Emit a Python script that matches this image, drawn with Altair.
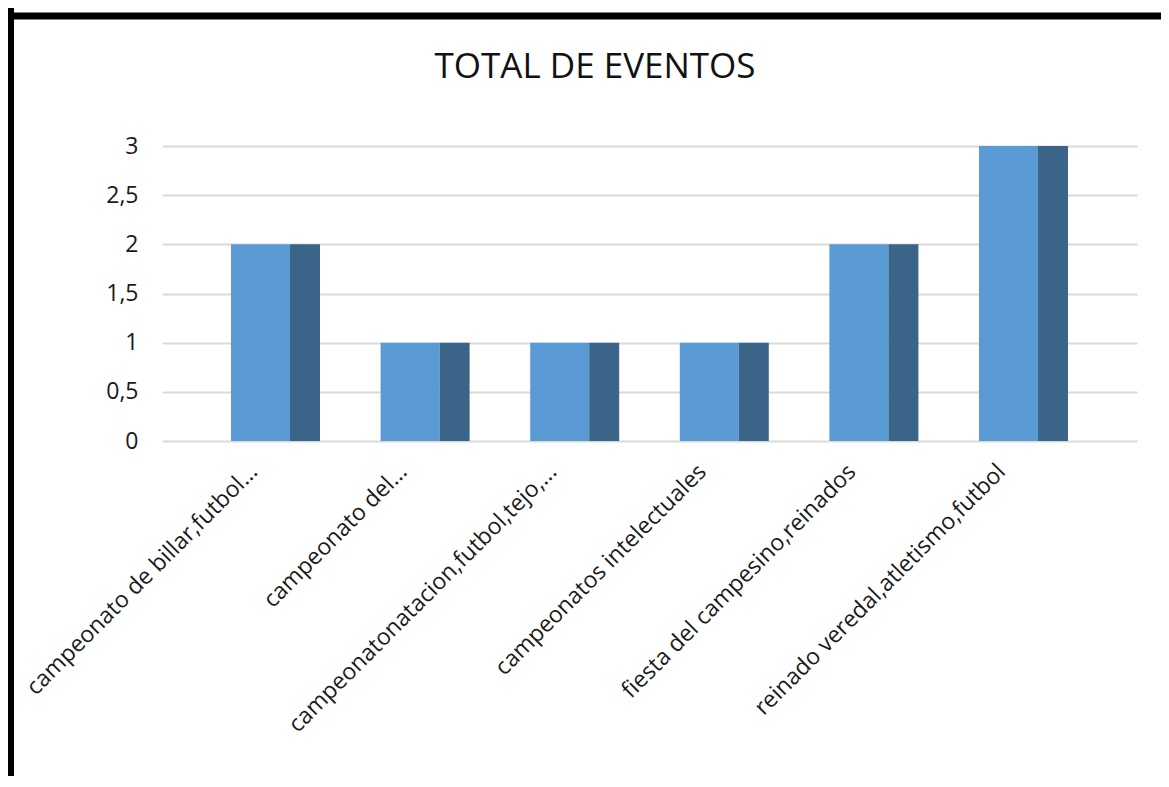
import json
import altair as alt
import pandas as pd

title_text = "TOTAL DE EVENTOS"
categories = [
    "campeonato de billar,futbol...",
    "campeonato del...",
    "campeonatonatacion,futbol,tejo,...",
    "campeonatos intelectuales",
    "fiesta del campesino,reinados",
    "reinado veredal,atletismo,futbol",
]
values = [2, 1, 1, 1, 2, 3]
y_ticks = [0, 0.5, 1, 1.5, 2, 2.5, 3]

FRONT = "#5B9BD5"
SIDE = "#3A6589"
FONT = "Open Sans"

df = pd.DataFrame({"idx": list(range(len(categories))), "cat": categories, "val": values})

W, H = 975, 295
label_expr = json.dumps(categories) + "[datum.value]"

base = alt.Chart(df)

x_axis = alt.Axis(
    values=list(range(len(categories))),
    labelExpr=label_expr,
    labelAngle=-45,
    labelAlign="right",
    labelBaseline="top",
    labelOffset=-30,
    labelPadding=19,
    labelLimit=0,
    labelOverlap=False,
    labelFlush=False,
    labelBound=False,
    labelFontSize=23,
    labelFont=FONT,
    labelColor="#1a1a1a",
    grid=False,
    ticks=False,
    domain=False,
    title=None,
)
y_axis = alt.Axis(
    values=y_ticks,
    labelExpr="replace(format(datum.value, '~g'), '.', ',')",
    labelFontSize=23,
    labelFont=FONT,
    labelColor="#1a1a1a",
    labelPadding=24,
    grid=True,
    gridColor="#d9d9d9",
    gridWidth=2,
    ticks=False,
    domain=False,
    title=None,
)
x_scale = alt.Scale(domain=[-0.7587, 5.7587], nice=False, zero=False)
y_scale = alt.Scale(domain=[0, 3], nice=False)

front = base.transform_calculate(
    x0="datum.idx - 0.2975", x1="datum.idx + 0.097"
).mark_bar(color=FRONT).encode(
    x=alt.X("x0:Q", scale=x_scale, axis=x_axis),
    x2="x1:Q",
    y=alt.Y("val:Q", scale=y_scale, axis=y_axis),
    y2=alt.datum(0),
)
side = base.transform_calculate(
    x0="datum.idx + 0.097", x1="datum.idx + 0.2975"
).mark_bar(color=SIDE).encode(
    x=alt.X("x0:Q", scale=x_scale, axis=x_axis),
    x2="x1:Q",
    y=alt.Y("val:Q", scale=y_scale, axis=y_axis),
    y2=alt.datum(0),
)

one = alt.Data(values=[{"t": title_text}])
title = alt.Chart(one).mark_text(
    font=FONT, fontSize=35, align="center", baseline="alphabetic", color="#111111"
).encode(text="t:N", x=alt.value(433), y=alt.value(-68))

left_border = alt.Chart(one).mark_rule(color="black", strokeWidth=6).encode(
    x=alt.value(-151), y=alt.value(-140), y2=alt.value(660)
)
top_border = alt.Chart(one).mark_rule(color="black", strokeWidth=7).encode(
    y=alt.value(-130), x=alt.value(-154), x2=alt.value(1010)
)

chart = alt.layer(front, side, title, left_border, top_border).properties(
    width=W,
    height=H,
    padding={"left": 154, "top": 138, "right": 24, "bottom": 335},
    autosize=alt.AutoSizeParams(type="none"),
    background="white",
).configure_view(stroke=None)

chart.save("out.html", embed_options={"renderer": "svg", "actions": False})
